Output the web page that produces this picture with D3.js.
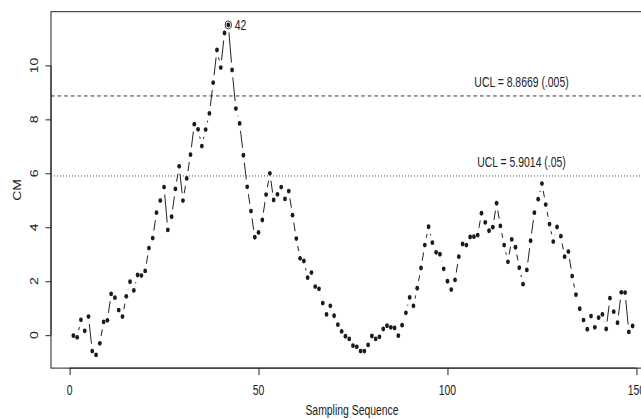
<!DOCTYPE html>
<html>
<head>
<meta charset="utf-8">
<script src="https://cdn.jsdelivr.net/npm/d3@7"></script>
<style>
  html, body { margin: 0; padding: 0; background: #fff; }
  svg { display: block; }
  text { font-family: "Liberation Sans", Arial, Helvetica, sans-serif; fill: #222; }
</style>
</head>
<body>
<svg id="chart" width="641" height="419"></svg>
<script>
// CM statistic for each sample in the monitoring sequence
const cmValues = [
  -0.02, -0.08, 0.57, 0.16, 0.69, -0.59, -0.73, -0.30, 0.49, 0.55,
  1.53, 1.39, 0.93, 0.69, 1.44, 1.98, 1.66, 2.23, 2.21, 2.38,
  3.23, 3.60, 4.54, 4.99, 5.49, 3.90, 4.39, 5.42, 6.26, 4.99,
  5.81, 6.69, 7.82, 7.63, 7.01, 7.62, 8.22, 9.36, 10.57, 9.92,
  11.20, 11.50, 9.83, 8.40, 7.85, 6.67, 5.50, 4.60, 3.63, 3.81,
  4.27, 5.21, 6.00, 5.01, 5.22, 5.49, 5.05, 5.34, 4.45, 3.58,
  2.85, 2.75, 2.13, 2.32, 1.80, 1.72, 1.19, 0.77, 1.09, 0.72,
  0.39, 0.14, -0.04, -0.14, -0.39, -0.43, -0.59, -0.59, -0.36, -0.03,
  -0.14, -0.06, 0.23, 0.35, 0.29, 0.27, -0.02, 0.37, 0.83, 1.40,
  1.09, 1.74, 2.49, 3.34, 4.02, 3.43, 3.07, 3.00, 2.46, 2.00,
  1.69, 2.05, 2.91, 3.38, 3.34, 3.64, 3.65, 3.71, 4.52, 4.18,
  3.87, 4.00, 4.89, 4.05, 3.34, 2.72, 3.55, 3.26, 2.50, 1.89,
  2.42, 3.50, 4.54, 5.04, 5.62, 4.84, 4.12, 3.47, 4.01, 3.67,
  2.91, 3.10, 2.19, 1.50, 0.98, 0.56, 0.22, 0.71, 0.29, 0.65,
  0.77, 0.23, 1.37, 0.87, 0.46, 1.59, 1.58, 0.12, 0.34
];
const sampleIndex = cmValues.map((_, i) => i + 1);

// Upper control limits and their labels
const uclValues = [8.8669, 5.9014];
const uclLabels = ["UCL = 8.8669 (.005)", "UCL = 5.9014 (.05)"];
const uclDash = ["3.6,3", "0.9,2.1"];

// Flagged sample (first signal)
const flaggedSamples = [42];

const xTicks = [0, 50, 100, 150];
const yTicks = [0, 2, 4, 6, 8, 10];
const xTitle = "Sampling Sequence";
const yTitle = "CM";

const svg = d3.select("#chart");
const SQ = 0.745;          // horizontal condensing of glyphs and symbols
const FS = 14;

const plot = { left: 51, right: 655, top: 11.7, bottom: 368.1 };

const x = d3.scaleLinear().domain([-4.92, 154.92]).range([plot.left, plot.right]);
const y = d3.scaleLinear().domain([-1.22, 11.99]).range([plot.bottom, plot.top]);

function label(g, px, py, str, anchor, rotate) {
  const t = g.append("g")
    .attr("transform", `translate(${px},${py}) scale(${SQ},1)` + (rotate ? ` rotate(${rotate})` : ""));
  t.append("text")
    .attr("text-anchor", anchor)
    .attr("dominant-baseline", "central")
    .attr("font-size", FS)
    .text(str);
  return t;
}

// plotting region frame
svg.append("rect")
  .attr("x", plot.left).attr("y", plot.top)
  .attr("width", plot.right - plot.left).attr("height", plot.bottom - plot.top)
  .attr("fill", "none").attr("stroke", "#222").attr("stroke-width", 1);

// x axis
const xAxis = d3.axisBottom(x).tickValues(xTicks).tickSize(7).tickPadding(4).tickFormat(d3.format("d"));
const gx = svg.append("g").attr("transform", `translate(0,${plot.bottom})`).call(xAxis);
gx.select(".domain").attr("d", `M${x(xTicks[0])},0H${x(xTicks[xTicks.length - 1])}`).attr("stroke", "#222");
gx.selectAll(".tick line").attr("stroke", "#222");
gx.selectAll(".tick text").remove();
xTicks.forEach(v => label(gx, x(v), 22, String(v), "middle"));

// y axis
const yAxis = d3.axisLeft(y).tickValues(yTicks).tickSize(5.5).tickFormat(d3.format("d"));
const gy = svg.append("g").attr("transform", `translate(${plot.left},0)`).call(yAxis);
gy.select(".domain").attr("d", `M0,${y(yTicks[0])}V${y(yTicks[yTicks.length - 1])}`).attr("stroke", "#222");
gy.selectAll(".tick line").attr("stroke", "#222");
gy.selectAll(".tick text").remove();
yTicks.forEach(v => label(gy, -16, y(v), String(v), "middle", -90));

// axis titles
label(svg, (plot.left + plot.right) / 2 - 1, 410, xTitle, "middle");
label(svg, 18, (plot.top + plot.bottom) / 2, yTitle, "middle", -90);

// control limits
uclValues.forEach((v, i) => {
  svg.append("line")
    .attr("x1", plot.left).attr("x2", plot.right)
    .attr("y1", y(v)).attr("y2", y(v))
    .attr("stroke", "#222").attr("stroke-width", 0.9)
    .attr("stroke-dasharray", uclDash[i]);
  label(svg, 521.5, y(v) - 13.5, uclLabels[i], "middle");
});

// series: points joined by segments that stop short of each symbol
const pts = sampleIndex.map((s, i) => ({ s, v: cmValues[i], px: x(s), py: y(cmValues[i]) }));
const GAP = 7.5;
const segs = [];
for (let i = 0; i < pts.length - 1; i++) {
  const a = pts[i], b = pts[i + 1];
  const dx = (b.px - a.px) / SQ, dy = b.py - a.py;
  const len = Math.hypot(dx, dy);
  if (len <= 2 * GAP) continue;
  const f0 = GAP / len, f1 = 1 - GAP / len;
  segs.push({
    x1: a.px + (b.px - a.px) * f0, y1: a.py + (b.py - a.py) * f0,
    x2: a.px + (b.px - a.px) * f1, y2: a.py + (b.py - a.py) * f1
  });
}
svg.append("g").selectAll("line").data(segs).join("line")
  .attr("x1", d => d.x1).attr("y1", d => d.y1)
  .attr("x2", d => d.x2).attr("y2", d => d.y2)
  .attr("stroke", "#222").attr("stroke-width", 1);

svg.append("g").selectAll("ellipse").data(pts).join("ellipse")
  .attr("cx", d => d.px).attr("cy", d => d.py)
  .attr("rx", 1.9).attr("ry", 2.4)
  .attr("fill", "#1b1b1b");

// flagged sample marker
flaggedSamples.forEach(s => {
  const d = pts.find(p => p.s === s);
  svg.append("ellipse")
    .attr("cx", d.px).attr("cy", d.py)
    .attr("rx", 3.2).attr("ry", 4.0)
    .attr("fill", "none").attr("stroke", "#222").attr("stroke-width", 0.9);
  label(svg, d.px + 6.5, d.py + 0.5, String(s), "start");
});
</script>
</body>
</html>
